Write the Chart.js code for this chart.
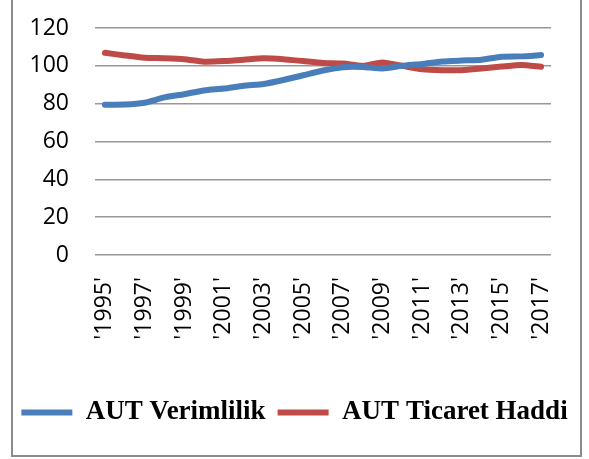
<!DOCTYPE html>
<html>
<head>
<meta charset="utf-8">
<script src="https://cdn.jsdelivr.net/npm/chart.js@4.4.0/dist/chart.umd.min.js"></script>
<style>
  html, body { margin: 0; padding: 0; background: #fff; }
  #wrap { width: 589px; height: 459px; }
</style>
</head>
<body>
<div id="wrap"><canvas id="autChart" width="589" height="459"></canvas></div>
<script>
// years 1995..2017
const years = ["'1995'", "'1996'", "'1997'", "'1998'", "'1999'", "'2000'", "'2001'", "'2002'",
  "'2003'", "'2004'", "'2005'", "'2006'", "'2007'", "'2008'", "'2009'", "'2010'", "'2011'",
  "'2012'", "'2013'", "'2014'", "'2015'", "'2016'", "'2017'"];

const verimlilik = [79.4, 79.5, 80.5, 83.3, 85, 87, 88, 89.5, 90.4, 92.5, 95, 97.5,
  99.3, 99.4, 98.6, 100, 101, 102.3, 102.8, 103.2, 104.8, 105, 105.7];

const ticaretHaddi = [106.9, 105.5, 104.3, 104, 103.5, 102.2, 102.5, 103.2, 104, 103.5,
  102.5, 101.5, 101.2, 100, 101.8, 100, 98.2, 97.7, 97.7, 98.6, 99.6, 100.5, 99.5];

const yTicks = [0, 20, 40, 60, 80, 100, 120];

// outer frame like the Excel chart area
const framePlugin = {
  id: 'frame',
  beforeDraw(chart) {
    const c = chart.ctx;
    c.save();
    c.strokeStyle = '#8c8c8c';
    c.lineWidth = 2;
    c.strokeRect(12, -5, 569, 461);
    c.restore();
  }
};

const ctx = document.getElementById('autChart').getContext('2d');
const autChart = new Chart(ctx, {
  type: 'line',
  data: {
    labels: years,
    datasets: [{
      label: 'AUT Verimlilik',
      data: verimlilik,
      borderColor: '#4a7ebb',
      backgroundColor: '#4a7ebb',
      borderWidth: 6,
      borderCapStyle: 'round',
      borderJoinStyle: 'round',
      pointRadius: 0,
      pointStyle: 'line',
      tension: 0.2
    }, {
      label: 'AUT Ticaret Haddi',
      data: ticaretHaddi,
      borderColor: '#be4b48',
      backgroundColor: '#be4b48',
      borderWidth: 6,
      borderCapStyle: 'round',
      borderJoinStyle: 'round',
      pointRadius: 0,
      pointStyle: 'line',
      tension: 0.2
    }]
  },
  options: {
    responsive: false,
    animation: false,
    layout: {
      padding: { left: 0, right: 0, top: 28, bottom: 23 }
    },
    scales: {
      y: {
        min: 0,
        max: 120,
        afterFit(scale) {
          scale.width = 95;
          scale.paddingTop = 0;
          scale.paddingBottom = 0;
        },
        afterBuildTicks(scale) { scale.ticks = yTicks.map(v => ({ value: v })); },
        ticks: {
          color: '#000',
          padding: 26,
          font: { family: 'Open Sans', size: 23 }
        },
        grid: {
          color: '#989898',
          lineWidth: 1.5,
          drawTicks: false
        },
        border: { display: false }
      },
      // empty axis on the right, only keeps the plot off the frame
      yRight: {
        position: 'right',
        display: true,
        afterFit(scale) {
          scale.width = 38;
          scale.paddingTop = 0;
          scale.paddingBottom = 0;
        },
        ticks: { display: false },
        grid: { display: false, drawTicks: false },
        border: { display: false }
      },
      x: {
        offset: true,
        afterFit(scale) {
          scale.height = 132;
          scale.paddingLeft = 0;
          scale.paddingRight = 0;
        },
        ticks: {
          color: '#000',
          autoSkip: false,
          maxRotation: 90,
          minRotation: 90,
          padding: 14,
          font: { family: 'Open Sans', size: 23 },
          callback(value, index) {
            return index % 2 === 0 ? years[index] : '';
          }
        },
        grid: { display: false },
        border: { display: false }
      }
    },
    plugins: {
      legend: {
        position: 'bottom',
        labels: {
          color: '#000',
          usePointStyle: true,
          pointStyleWidth: 51,
          padding: 12,
          font: { family: 'Liberation Serif', size: 27, weight: 'bold' }
        }
      },
      tooltip: { enabled: false }
    }
  },
  plugins: [framePlugin]
});
</script>
</body>
</html>
